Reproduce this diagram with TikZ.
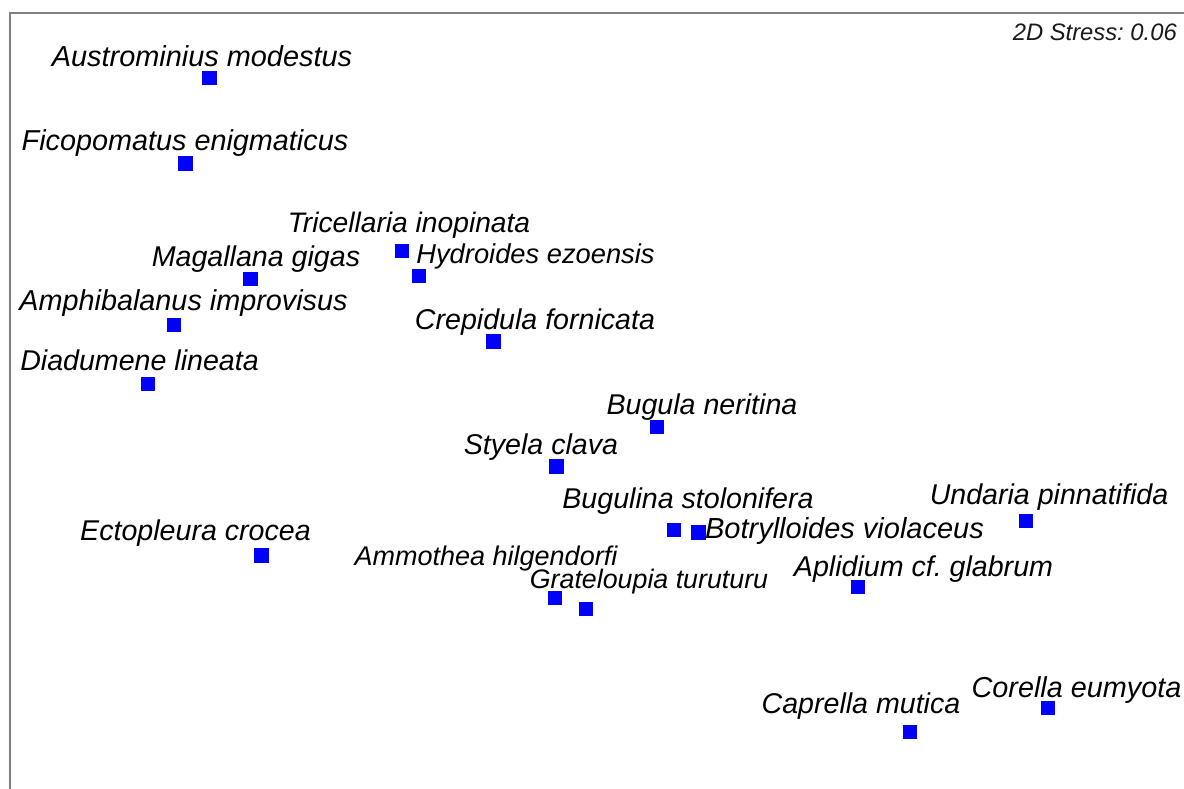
\documentclass[tikz,border=0pt]{standalone}
\usepackage{fontspec}
\setmainfont{Liberation Sans}
\frenchspacing
\begin{document}
\begin{tikzpicture}[x=1pt,y=-1pt,
  sq/.style={rectangle,fill=blue,draw=none,inner sep=0pt,minimum size=14.5pt},
  lab/.style={anchor=base,inner sep=0pt,text=black,font=\fontsize{28.6}{30}\selectfont\itshape},
  fs/.style={font=\fontsize{#1}{30}\selectfont\itshape},
  stress/.style={anchor=base east,inner sep=0pt,text=black!90,font=\fontsize{23.8}{25}\selectfont\itshape},
  frame/.style={draw=black!50,line width=2pt}]
\useasboundingbox (0,0) rectangle (1184,789);
\fill[white] (0,0) rectangle (1184,789);
% frame
\coordinate (fbl) at (10,789);
\coordinate (ftl) at (10,13);
\coordinate (ftr) at (1184,13);
\draw[frame] (fbl) -- (ftl) -- (ftr);
\node[stress] (st) at (1177,41) {2D Stress: 0.06};
% markers
\node[sq] (m1) at (209.5,78) {};
\node[sq] (m2) at (185.5,163.5) {};
\node[sq] (m3) at (402,251) {};
\node[sq] (m4) at (419,276) {};
\node[sq] (m5) at (250.5,279) {};
\node[sq] (m6) at (174,325) {};
\node[sq] (m7) at (493.5,341.5) {};
\node[sq] (m8) at (148,384) {};
\node[sq] (m9) at (657,427) {};
\node[sq] (m10) at (556.5,466.5) {};
\node[sq] (m11) at (674,530) {};
\node[sq] (m12) at (698.5,532.5) {};
\node[sq] (m13) at (1026,521) {};
\node[sq] (m14) at (261.5,555.5) {};
\node[sq] (m15) at (555,598) {};
\node[sq] (m16) at (586,609) {};
\node[sq] (m17) at (858,587) {};
\node[sq] (m18) at (910,732) {};
\node[sq] (m19) at (1048,708) {};
% labels
\node[lab,fs=28.9] (l1) at (202,66.5) {Austrominius modestus};
\node[lab,fs=28.8] (l2) at (185,150.5) {Ficopomatus enigmaticus};
\node[lab,fs=28.2] (l3) at (409,232) {Tricellaria inopinata};
\node[lab,fs=27.3] (l4) at (535.5,263) {Hydroides ezoensis};
\node[lab] (l5) at (256,266.5) {Magallana gigas};
\node[lab,fs=28.8] (l6) at (183.5,310) {Amphibalanus improvisus};
\node[lab] (l7) at (535,329.5) {Crepidula fornicata};
\node[lab] (l8) at (139.5,370) {Diadumene lineata};
\node[lab] (l9) at (702,414) {Bugula neritina};
\node[lab] (l10) at (541,454.5) {Styela clava};
\node[lab] (l11) at (688,508.5) {Bugulina stolonifera};
\node[lab,fs=29] (l12) at (844.5,538) {Botrylloides violaceus};
\node[lab] (l13) at (1049,504.5) {Undaria pinnatifida};
\node[lab] (l14) at (195.5,540) {Ectopleura crocea};
\node[lab,fs=27] (l15) at (486,565) {Ammothea hilgendorfi};
\node[lab,fs=26.8] (l16) at (649,588) {Grateloupia turuturu};
\node[lab] (l17) at (923.5,576) {Aplidium cf. glabrum};
\node[lab] (l18) at (861,713) {Caprella mutica};
\node[lab,fs=28.8] (l19) at (1076.5,697) {Corella eumyota};
\end{tikzpicture}
\end{document}
